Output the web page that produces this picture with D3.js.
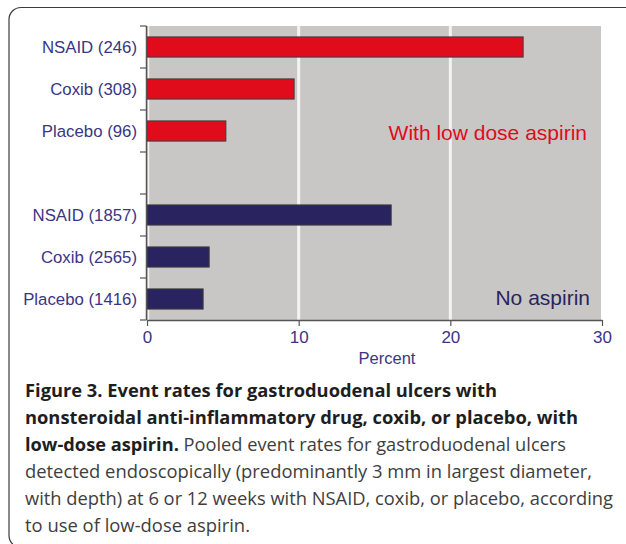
<!DOCTYPE html>
<html>
<head>
<meta charset="utf-8">
<script src="https://cdn.jsdelivr.net/npm/d3@7"></script>
<style>
  body { margin: 0; background: #fff; }
  svg { display: block; }
</style>
</head>
<body>
<div id="chart"></div>
<script>
var aspirinLabels = ["NSAID (246)", "Coxib (308)", "Placebo (96)"],
    aspirinValues = [24.8, 9.7, 5.2],
    noAspirinLabels = ["NSAID (1857)", "Coxib (2565)", "Placebo (1416)"],
    noAspirinValues = [16.1, 4.1, 3.7],
    xTicks = [0, 10, 20, 30];

var captionLines = [
  [["Figure 3. Event rates for gastroduodenal ulcers with", true]],
  [["nonsteroidal anti-inflammatory drug, coxib, or placebo, with", true]],
  [["low-dose aspirin.", true], [" Pooled event rates for gastroduodenal ulcers", false]],
  [["detected endoscopically (predominantly 3 mm in largest diameter,", false]],
  [["with depth) at 6 or 12 weeks with NSAID, coxib, or placebo, according", false]],
  [["to use of low-dose aspirin.", false]]
];
var captionWidths = [472, 553, 541, 567, 588, 225];

var width = 626, height = 544,
    plotLeft = 147, plotRight = 602, plotTop = 26, plotBottom = 320;

var textColor = "#3a3584",
    red = "#e00b1b",
    navy = "#29245f";

// rows: aspirin group, an empty spacer row, then no aspirin group
var rows = aspirinLabels.map(function(d, i) { return {key: "a" + i, label: d, value: aspirinValues[i], color: red}; })
  .concat([{key: "gap", label: "", value: null}])
  .concat(noAspirinLabels.map(function(d, i) { return {key: "n" + i, label: d, value: noAspirinValues[i], color: navy}; }));

var x = d3.scaleLinear().domain([0, 30]).range([plotLeft, plotRight]);

var y = d3.scaleBand()
    .domain(rows.map(function(d) { return d.key; }))
    .range([plotTop, plotBottom])
    .paddingInner(0.52)
    .paddingOuter(0.26);

var svg = d3.select("#chart").append("svg")
    .attr("width", width)
    .attr("height", height);

// frame
svg.append("rect")
    .attr("x", 9)
    .attr("y", 7.5)
    .attr("width", 660)
    .attr("height", 540)
    .attr("rx", 12)
    .attr("fill", "none")
    .attr("stroke", "#3a3a3a")
    .attr("stroke-width", 1.2);

// plot background
svg.append("rect")
    .attr("x", plotLeft)
    .attr("y", plotTop)
    .attr("width", plotRight - plotLeft - 1)
    .attr("height", plotBottom - plotTop)
    .attr("fill", "#c9c7c6");

svg.selectAll(".grid")
    .data(xTicks.slice(0, 3))
  .enter().append("line")
    .attr("class", "grid")
    .attr("x1", function(d) { return x(d) + (d === 0 ? 1.5 : 0); })
    .attr("x2", function(d) { return x(d) + (d === 0 ? 1.5 : 0); })
    .attr("y1", plotTop)
    .attr("y2", plotBottom)
    .attr("stroke", "#f4f3f2")
    .attr("stroke-width", function(d) { return d === 0 ? 1.5 : 3; });

svg.selectAll(".bar")
    .data(rows.filter(function(d) { return d.value !== null; }))
  .enter().append("rect")
    .attr("class", "bar")
    .attr("x", x(0))
    .attr("y", function(d) { return y(d.key); })
    .attr("width", function(d) { return x(d.value) - x(0); })
    .attr("height", y.bandwidth())
    .attr("fill", function(d) { return d.color; })
    .attr("stroke", "#3c3c3c")
    .attr("stroke-width", 1);

// x axis
var xAxis = svg.append("g")
    .attr("transform", "translate(0," + plotBottom + ")")
    .call(d3.axisBottom(x).tickValues(xTicks).tickSize(6).tickPadding(5).tickSizeOuter(0));

xAxis.select(".domain").attr("stroke", "#555").attr("stroke-width", 1.5);
xAxis.selectAll(".tick line").attr("stroke", "#555").attr("stroke-width", 1.2);
xAxis.selectAll(".tick text")
    .attr("fill", textColor)
    .style("font-family", "'Liberation Sans', Arial, sans-serif")
    .style("font-size", "17px");

svg.append("text")
    .attr("x", 387)
    .attr("y", 364)
    .attr("text-anchor", "middle")
    .attr("fill", textColor)
    .style("font-family", "'Liberation Sans', Arial, sans-serif")
    .style("font-size", "16.5px")
    .text("Percent");

// y axis: ticks between rows, labels at row centres
var boundaries = d3.range(rows.length + 1).map(function(i) { return plotTop + i * y.step(); });

svg.append("line")
    .attr("x1", plotLeft - 0.5).attr("x2", plotLeft - 0.5)
    .attr("y1", plotTop).attr("y2", plotBottom)
    .attr("stroke", "#555").attr("stroke-width", 1.5);

svg.selectAll(".ytick")
    .data(boundaries)
  .enter().append("line")
    .attr("class", "ytick")
    .attr("x1", plotLeft - 7).attr("x2", plotLeft - 0.5)
    .attr("y1", function(d) { return d; })
    .attr("y2", function(d) { return d; })
    .attr("stroke", "#555").attr("stroke-width", 1.2);

svg.selectAll(".ylabel")
    .data(rows)
  .enter().append("text")
    .attr("class", "ylabel")
    .attr("x", 137)
    .attr("y", function(d) { return y(d.key) + y.bandwidth() / 2; })
    .attr("dy", "0.36em")
    .attr("text-anchor", "end")
    .attr("fill", textColor)
    .style("font-family", "'Liberation Sans', Arial, sans-serif")
    .style("font-size", "16.8px")
    .text(function(d) { return d.label; });

// group notes
svg.append("text")
    .attr("x", 587)
    .attr("y", 140)
    .attr("text-anchor", "end")
    .attr("fill", red)
    .style("font-family", "'Liberation Sans', Arial, sans-serif")
    .style("font-size", "21px")
    .text("With low dose aspirin");

svg.append("text")
    .attr("x", 590)
    .attr("y", 305)
    .attr("text-anchor", "end")
    .attr("fill", navy)
    .style("font-family", "'Liberation Sans', Arial, sans-serif")
    .style("font-size", "21px")
    .text("No aspirin");

// caption
var caption = svg.selectAll(".caption")
    .data(captionLines)
  .enter().append("text")
    .attr("class", "caption")
    .attr("x", 25)
    .attr("y", function(d, i) { return 397 + i * 27; })
    .attr("textLength", function(d, i) { return captionWidths[i]; })
    .attr("lengthAdjust", "spacingAndGlyphs")
    .style("font-family", "'Open Sans', 'Noto Sans', sans-serif")
    .style("font-size", "18px");

caption.selectAll("tspan")
    .data(function(d) { return d; })
  .enter().append("tspan")
    .attr("font-weight", function(d) { return d[1] ? "bold" : "normal"; })
    .attr("fill", function(d) { return d[1] ? "#1e1e1e" : "#3e3e3e"; })
    .text(function(d) { return d[0]; });
</script>
</body>
</html>
